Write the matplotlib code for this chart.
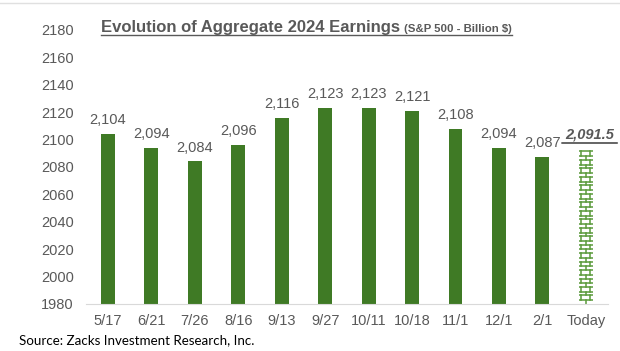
import matplotlib.pyplot as plt

plt.rcParams['font.family'] = ['Liberation Sans', 'DejaVu Sans']

dates = ['5/17', '6/21', '7/26', '8/16', '9/13', '9/27', '10/11', '10/18', '11/1', '12/1', '2/1', 'Today']
earnings = [2104, 2094, 2084, 2096, 2116, 2123, 2123, 2121, 2108, 2094, 2087, 2091.5]
labels = ['2,104', '2,094', '2,084', '2,096', '2,116', '2,123', '2,123', '2,121', '2,108', '2,094', '2,087', '2,091.5']

green = '#3f7a25'
brick_green = '#5a9a3a'
gray = '#595959'

fig = plt.figure(figsize=(6.2, 3.51), dpi=100)
ax = fig.add_axes([0.139, 0.134, 0.841, 0.7806])

x = list(range(len(dates)))
w = 0.32
ax.bar(x[:-1], earnings[:-1], width=w, color=green)
ax.bar(x[-1], earnings[-1], width=w, color='white', linewidth=0)

ax.set_ylim(1980, 2180)
ax.set_xlim(-0.5, len(dates) - 0.5)
ax.set_yticks(range(1980, 2181, 20))
ax.set_xticks(x)
ax.set_xticklabels(dates)
ax.tick_params(axis='both', length=0, labelsize=10.5, colors=gray)
ax.tick_params(axis='y', pad=9)
ax.tick_params(axis='x', pad=7)
for s in ['top', 'right', 'left']:
    ax.spines[s].set_visible(False)
ax.spines['bottom'].set_color('#d9d9d9')

# brick pattern for the "Today" estimate bar
base = ax.get_ylim()[0]
n_rows = 18
step = (earnings[-1] - base) / n_rows
box_h = step * 0.58
xc = x[-1]
for r in range(n_rows):
    top = earnings[-1] - r * step
    bot = top - box_h
    ax.plot([xc - w / 2, xc + w / 2], [top, top], color=brick_green, lw=1.1, solid_capstyle='butt')
    ax.plot([xc - w / 2, xc + w / 2], [bot, bot], color=brick_green, lw=1.1, solid_capstyle='butt')
    ax.plot([xc - w * 0.33, xc - w * 0.33], [bot, top], color=brick_green, lw=1.1)
    ax.plot([xc + w * 0.33, xc + w * 0.33], [bot, top], color=brick_green, lw=1.1)
    ax.plot([xc, xc], [max(bot - (step - box_h), base), bot], color=brick_green, lw=1.1)

for i in range(len(dates) - 1):
    ax.annotate(labels[i], (x[i], earnings[i]), xytext=(0, 5), textcoords='offset points',
                ha='center', va='bottom', fontsize=10.5, color=gray)
ax.annotate(labels[-1], (x[-1] + 0.08, earnings[-1]), xytext=(0, 7), textcoords='offset points',
            ha='center', va='bottom', fontsize=10.5, color=gray, fontweight='bold',
            fontstyle='italic')
ax.annotate('', (x[-1] - 0.55, earnings[-1] + 6), xytext=(x[-1] + 0.72, earnings[-1] + 6),
            xycoords='data', annotation_clip=False,
            arrowprops=dict(arrowstyle='-', color=gray, lw=1.3, shrinkA=0, shrinkB=0))

t1 = fig.text(0.163, 0.909, 'Evolution of Aggregate 2024 Earnings', fontsize=12,
              fontweight='bold', color=gray, va='baseline')
fig.canvas.draw()
bb = t1.get_window_extent()
t2 = fig.text(bb.x1 / fig.bbox.width + 0.006, 0.909, '(S&P 500 - Billion $)', fontsize=8.2,
              fontweight='bold', color=gray, va='baseline')
fig.canvas.draw()
bb2 = t2.get_window_extent()
y_ul = 0.900
fig.add_artist(plt.Line2D([bb.x0 / fig.bbox.width, bb2.x1 / fig.bbox.width], [y_ul, y_ul],
                          color=gray, lw=1))

# faint spreadsheet gridline at the top edge
fig.add_artist(plt.Line2D([0, 1], [0.992, 0.992], color='#e0e0e0', lw=1))

fig.text(0.03, 0.02, 'Source: Zacks Investment Research, Inc.', fontsize=9.6, color='black',
         family=['Lato', 'DejaVu Sans'])

fig.savefig('out.png', dpi=100)
